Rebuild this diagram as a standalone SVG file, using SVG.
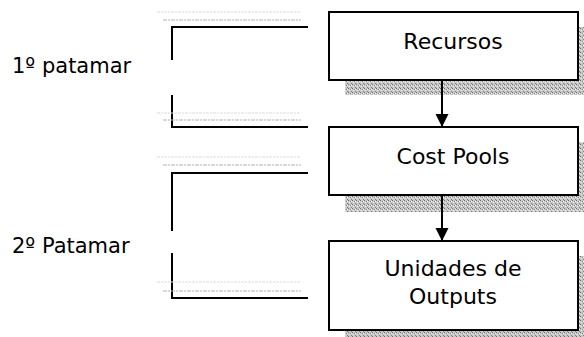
<svg xmlns="http://www.w3.org/2000/svg" width="584" height="337" viewBox="0 0 584 337">
  <style>
    .box { fill: #ffffff; stroke: #000000; stroke-width: 2; }
    .shadow { fill: url(#stipple); }
    .label { font-family: "DejaVu Sans", Verdana, sans-serif; font-size: 21px; fill: #000000; }
    .center { text-anchor: middle; font-size: 22px; }
    .bracket { fill: none; stroke: #000000; stroke-width: 2; }
    .faint1 { stroke: #dcdcdc; stroke-width: 1.2; stroke-dasharray: 3 1 2 1; }
    .faint2 { stroke: #b4b4b4; stroke-width: 1.2; stroke-dasharray: 4 1 2 1; }
    .link { stroke: #000000; stroke-width: 2; fill: none; }
  </style>
  <defs>
    <pattern id="stipple" width="4" height="4" patternUnits="userSpaceOnUse">
      <rect width="4" height="4" fill="#c8c8c8"/>
      <rect x="0" y="0" width="1" height="1" fill="#707070"/>
      <rect x="2" y="1" width="1" height="1" fill="#8a8a8a"/>
      <rect x="1" y="2" width="1" height="1" fill="#e8e8e8"/>
      <rect x="3" y="3" width="1" height="1" fill="#808080"/>
      <rect x="3" y="1" width="1" height="1" fill="#eeeeee"/>
    </pattern>
    <marker id="arrow" markerWidth="13" markerHeight="15" refX="13" refY="6.5" orient="auto" markerUnits="userSpaceOnUse">
      <path d="M0,0 L13,6.5 L0,13 Z" fill="#000000"/>
    </marker>
  </defs>

  <!-- level brackets with faint guide rules -->
  <g id="level1">
    <line class="faint1" x1="157" y1="12" x2="300" y2="12"/>
    <line class="faint2" x1="163" y1="20" x2="301" y2="20"/>
    <path class="bracket" d="M308,27 H172 V60"/>
    <path class="bracket" d="M172,95 V127 H308"/>
    <line class="faint1" x1="157" y1="113" x2="300" y2="113"/>
    <line class="faint2" x1="163" y1="120" x2="301" y2="120"/>
    <text class="label" x="12" y="73">1º patamar</text>
  </g>
  <g id="level2">
    <line class="faint1" x1="157" y1="157" x2="300" y2="157"/>
    <line class="faint2" x1="163" y1="165" x2="301" y2="165"/>
    <path class="bracket" d="M308,173 H172 V231"/>
    <path class="bracket" d="M172,253 V298 H308"/>
    <line class="faint1" x1="157" y1="282" x2="300" y2="282"/>
    <line class="faint2" x1="163" y1="291" x2="301" y2="291"/>
    <text class="label" x="12" y="253">2º Patamar</text>
  </g>

  <!-- shadows -->
  <g id="shadows">
    <rect class="shadow" x="345" y="27" width="239" height="68"/>
    <rect class="shadow" x="345" y="142" width="239" height="70"/>
    <rect class="shadow" x="345" y="256" width="239" height="81"/>
  </g>

  <!-- connectors -->
  <g id="connectors">
    <line class="link" x1="442" y1="80" x2="442" y2="127" marker-end="url(#arrow)"/>
    <line class="link" x1="442" y1="195" x2="442" y2="241" marker-end="url(#arrow)"/>
  </g>

  <g id="recursos">
    <rect class="box" x="329" y="12" width="249" height="68"/>
    <text class="label center" x="453" y="49">Recursos</text>
  </g>
  <g id="cost-pools">
    <rect class="box" x="329" y="127" width="249" height="68"/>
    <text class="label center" x="453" y="164">Cost Pools</text>
  </g>
  <g id="unidades-outputs">
    <rect class="box" x="329" y="241" width="249" height="89"/>
    <text class="label center" x="453" y="276">Unidades de</text>
    <text class="label center" x="453" y="304">Outputs</text>
  </g>
</svg>
